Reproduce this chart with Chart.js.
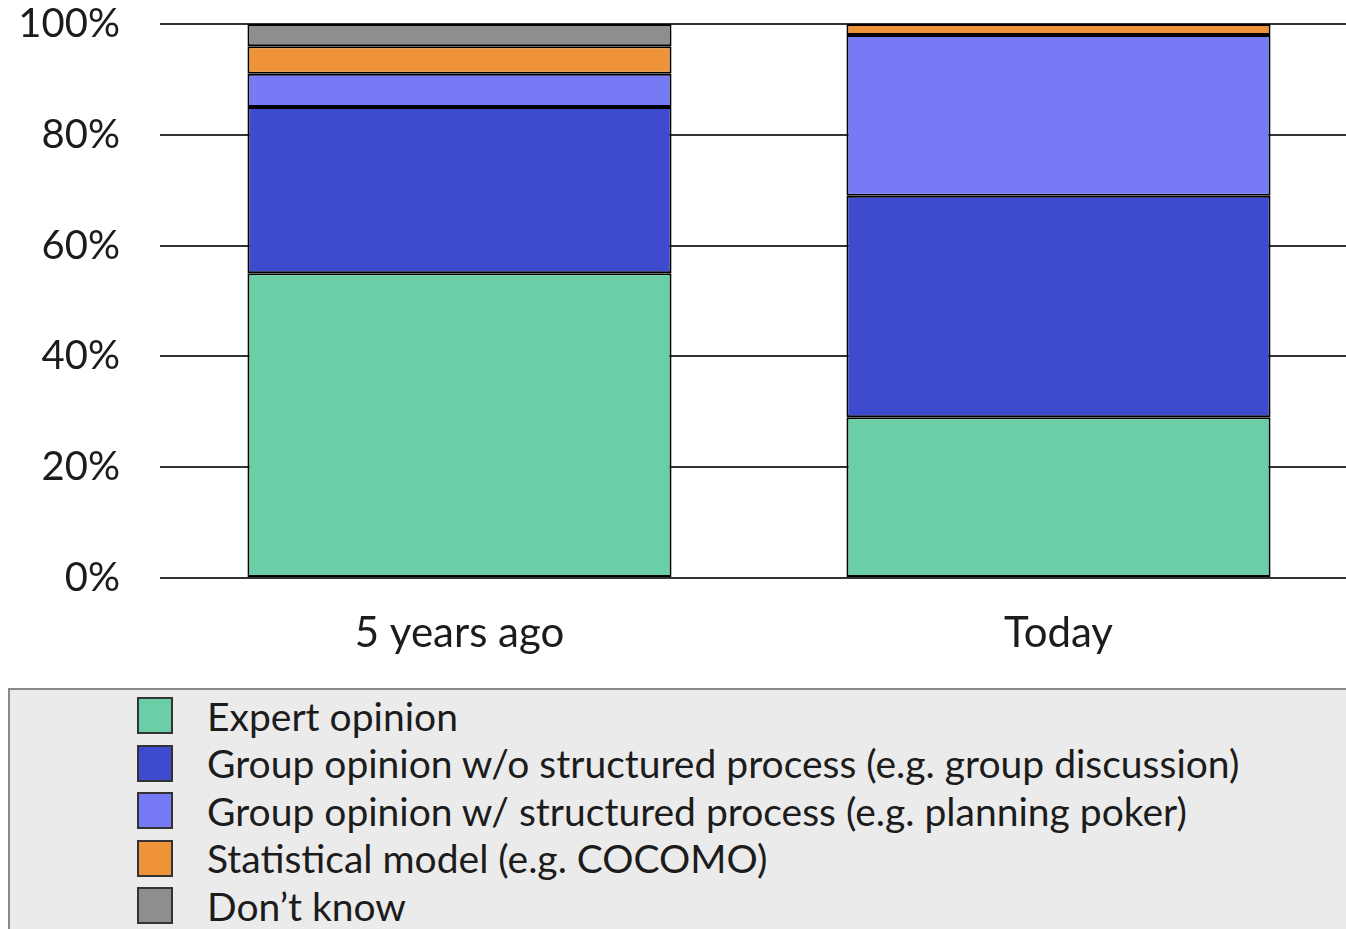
<!DOCTYPE html>
<html>
<head>
<meta charset="utf-8">
<title>Estimation methods</title>
<script src="https://cdn.jsdelivr.net/npm/chart.js@4/dist/chart.umd.min.js"></script>
<style>
  html, body { margin: 0; padding: 0; background: #fff; overflow: hidden; width: 1346px; height: 929px; }
  #wrap { position: absolute; left: 0; top: 0; }
  #legend {
    position: absolute; left: 8px; top: 688px; width: 1360px; height: 260px;
    background: #ebebeb; border-top: 2px solid #8a8a8a; border-left: 2px solid #8a8a8a;
    box-sizing: border-box; font-family: Lato, "Open Sans", sans-serif; color: #1c1c1c;
  }
  #legend ul { list-style: none; margin: 0; padding: 2px 0 0 0; }
  #legend li { display: flex; align-items: center; height: 47.5px; font-size: 39px; }
  #legend .sw { width: 32px; height: 33px; margin-left: 127px; margin-right: 34px; border: 2px solid #333; }
</style>
</head>
<body>
<div id="wrap"><canvas id="c" width="1358" height="686"></canvas></div>
<div id="legend"><ul id="legend-list"></ul></div>
<script>
// Share of respondents using each estimation method
const periods = ["5 years ago", "Today"];
const expertOpinion = [55, 29];
const groupUnstructured = [30, 40];
const groupStructured = [6, 29];
const statisticalModel = [5, 2];
const dontKnow = [4, 0];
const yTicks = [0, 20, 40, 60, 80, 100];

const series = [
  { label: "Expert opinion", data: expertOpinion, color: "#6acfa6" },
  { label: "Group opinion w/o structured process (e.g. group discussion)", data: groupUnstructured, color: "#3e4bcf" },
  { label: "Group opinion w/ structured process (e.g. planning poker)", data: groupStructured, color: "#767bf5" },
  { label: "Statistical model (e.g. COCOMO)", data: statisticalModel, color: "#ee9338" },
  { label: "Don\u2019t know", data: dontKnow, color: "#8e8e8e" }
];

const font = "Lato, 'Open Sans', sans-serif";

const chart = new Chart(document.getElementById("c"), {
  type: "bar",
  data: {
    labels: periods,
    datasets: series.map(s => ({
      label: s.label,
      data: s.data,
      backgroundColor: s.color,
      borderColor: "#000",
      borderWidth: 2,
      borderSkipped: false,
      categoryPercentage: 1,
      barPercentage: 0.708
    }))
  },
  options: {
    responsive: false,
    devicePixelRatio: 1,
    animation: false,
    layout: { padding: { top: 24, right: 0, left: 0, bottom: 0 } },
    plugins: { legend: { display: false }, tooltip: { enabled: false } },
    scales: {
      x: {
        stacked: true,
        grid: { display: false, drawTicks: false },
        border: { display: false },
        ticks: { color: "#1c1c1c", font: { family: font, size: 42 }, padding: 30 },
        afterFit: s => { s.height = 108; s.paddingLeft = 0; s.paddingRight = 0; }
      },
      y: {
        stacked: true,
        min: 0, max: 100,
        afterBuildTicks: s => { s.ticks = yTicks.map(v => ({ value: v })); },
        grid: { color: "#333", lineWidth: 2, drawTicks: false },
        border: { display: false },
        ticks: {
          color: "#1c1c1c", font: { family: font, size: 40 }, padding: 40,
          callback: v => v + "%"
        },
        afterFit: s => { s.width = 160; s.paddingTop = 0; s.paddingBottom = 0; }
      }
    }
  }
});

// Legend built from the chart's own datasets
const list = document.getElementById("legend-list");
chart.data.datasets.forEach(ds => {
  const li = document.createElement("li");
  const sw = document.createElement("span");
  sw.className = "sw";
  sw.style.background = ds.backgroundColor;
  const tx = document.createElement("span");
  tx.textContent = ds.label;
  li.appendChild(sw);
  li.appendChild(tx);
  list.appendChild(li);
});
</script>
</body>
</html>
